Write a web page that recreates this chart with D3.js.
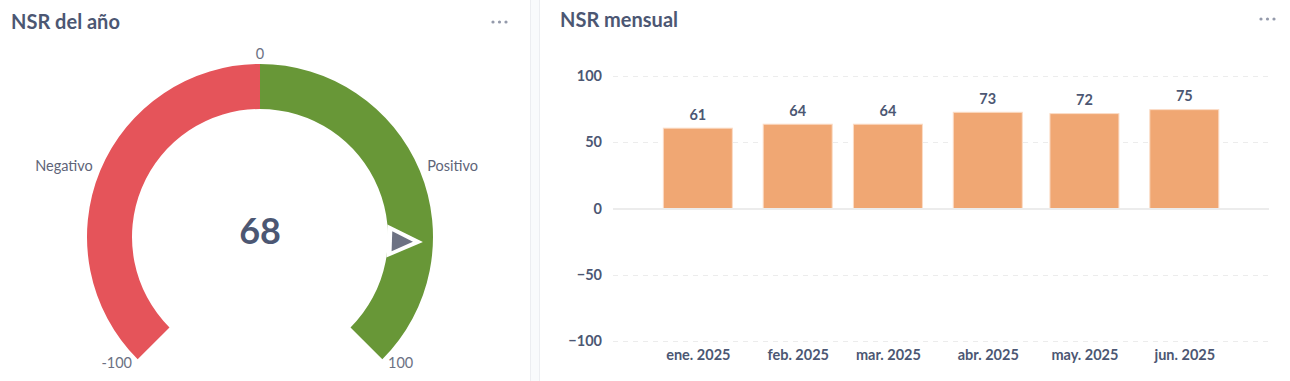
<!DOCTYPE html>
<html><head><meta charset="utf-8">
<script src="https://cdn.jsdelivr.net/npm/d3@7"></script>
<style>
html,body{margin:0;padding:0;background:#fff;}
svg{display:block;font-family:Lato, "Noto Sans", sans-serif;}
</style></head>
<body>
<svg id="chart" width="1290" height="381"></svg>
<script>
// ---------- data ----------
const gaugeTitle = "NSR del año";
const gaugeValue = 68;
const gaugeMin = -100;
const gaugeMax = 100;
const gaugeSegments = [
  {label: "Negativo", from: -100, to: 0},
  {label: "Positivo", from: 0, to: 100}
];
const gaugeTicks = [-100, 0, 100];

const barTitle = "NSR mensual";
const months = ["2025-01-01", "2025-02-01", "2025-03-01", "2025-04-01", "2025-05-01", "2025-06-01"];
const monthLabels = ["ene. 2025", "feb. 2025", "mar. 2025", "abr. 2025", "may. 2025", "jun. 2025"];
const nsrValues = [61, 64, 64, 73, 72, 75];
const yTicks = [-100, -50, 0, 50, 100];

// ---------- styles ----------
const TEXT = "#4c5773";
const LABEL = "#5e6478";
const RED = "#e5545a";
const GREEN = "#689737";
const BAR = "#f0a773";
const segColors = [RED, GREEN];

const svg = d3.select("#chart");

// panel separator
svg.append("rect").attr("x", 530).attr("y", 0).attr("width", 10).attr("height", 381).attr("fill", "#f9fbfc");
svg.append("line").attr("x1", 530.5).attr("x2", 530.5).attr("y1", 0).attr("y2", 381).attr("stroke", "#eceef1");
svg.append("line").attr("x1", 539.5).attr("x2", 539.5).attr("y1", 0).attr("y2", 381).attr("stroke", "#eceef1");

function dots(g, x, y) {
  [0, 1, 2].forEach(i => g.append("circle").attr("cx", x + i * 6.5).attr("cy", y).attr("r", 1.6).attr("fill", "#949aab"));
}

// ---------- gauge ----------
const gL = svg.append("g");
gL.append("text").attr("x", 11).attr("y", 29).attr("font-size", 20).attr("font-weight", 700)
  .attr("fill", TEXT).text(gaugeTitle);
dots(gL, 493, 22);

const cx = 260, cy = 237, R = 173, r = 128;
const ang = d3.scaleLinear().domain([gaugeMin, gaugeMax]).range([-135 * Math.PI / 180, 135 * Math.PI / 180]);
const arc = d3.arc().innerRadius(r).outerRadius(R);
const gauge = gL.append("g").attr("transform", `translate(${cx},${cy})`);

gauge.selectAll("path.seg").data(gaugeSegments).join("path")
  .attr("class", "seg")
  .attr("d", d => arc({startAngle: ang(d.from), endAngle: ang(d.to)}))
  .attr("fill", (d, i) => segColors[i]);

const labR = R + 8;
const labDy = 3;
function anchorFor(a) {
  const s = Math.sin(a);
  return Math.abs(s) < 0.1 ? "middle" : (s > 0 ? "start" : "end");
}
gauge.selectAll("text.tick").data(gaugeTicks).join("text")
  .attr("class", "tick")
  .attr("x", d => labR * Math.sin(ang(d)))
  .attr("y", d => -labR * Math.cos(ang(d)) + labDy)
  .attr("text-anchor", d => anchorFor(ang(d)))
  .attr("font-size", 14.5).attr("fill", "#6b7183")
  .text(d => d);
gauge.selectAll("text.seglab").data(gaugeSegments).join("text")
  .attr("class", "seglab")
  .attr("x", d => labR * Math.sin(ang((d.from + d.to) / 2)))
  .attr("y", d => -labR * Math.cos(ang((d.from + d.to) / 2)) + labDy)
  .attr("text-anchor", d => anchorFor(ang((d.from + d.to) / 2)))
  .attr("font-size", 14.5).attr("fill", LABEL)
  .text(d => d.label);

gauge.append("text").attr("x", 0).attr("y", 7).attr("text-anchor", "middle")
  .attr("font-size", 36).attr("font-weight", 700).attr("fill", TEXT).text(gaugeValue);

// pointer
const pa = ang(gaugeValue);
const pg = gauge.append("g").attr("transform", `rotate(${pa * 180 / Math.PI})`);
pg.append("path").attr("d", `M-16.5,-127 L16.5,-127 L0,-163 Z`).attr("fill", "#fff");
pg.append("path").attr("d", `M-10,-132 L10,-132 L0,-153 Z`).attr("fill", "#6d7283");

// ---------- bar chart ----------
const gR = svg.append("g");
gR.append("text").attr("x", 560).attr("y", 27).attr("font-size", 20).attr("font-weight", 700)
  .attr("fill", TEXT).text(barTitle);
dots(gR, 1261, 19);

const parse = d3.utcParse("%Y-%m-%d");
const dates = months.map(parse);
const padDays = 26.3;
const x = d3.scaleUtc()
  .domain([d3.utcHour.offset(dates[0], -padDays * 24), d3.utcHour.offset(dates[dates.length - 1], padDays * 24)])
  .range([613, 1269]);
const y = d3.scaleLinear().domain([-100, 100]).range([341, 76]);

// grid
gR.selectAll("line.grid").data(yTicks.filter(t => t !== 0)).join("line")
  .attr("class", "grid")
  .attr("x1", 613).attr("x2", 1269)
  .attr("y1", d => Math.round(y(d)) + 0.5).attr("y2", d => Math.round(y(d)) + 0.5)
  .attr("stroke", "#ececec").attr("stroke-dasharray", "5,5");

const yAxis = d3.axisLeft(y).tickValues(yTicks).tickSize(0).tickPadding(0);
const ya = gR.append("g").attr("transform", "translate(602,0)").call(yAxis);
ya.select(".domain").remove();
ya.selectAll("text").attr("font-family", "Lato").attr("font-size", 14.5).attr("font-weight", 700).attr("fill", TEXT);

const barW = 70;
const data = dates.map((d, i) => ({date: d, label: monthLabels[i], value: nsrValues[i]}));

gR.selectAll("rect.bar").data(data).join("rect")
  .attr("class", "bar")
  .attr("x", d => x(d.date) - barW / 2 + 0.5)
  .attr("width", barW - 1)
  .attr("y", d => y(d.value) + 0.5)
  .attr("height", d => y(0) - y(d.value))
  .attr("fill", BAR).attr("stroke", "#fbdcc6").attr("stroke-width", 1);

// zero line
gR.append("line").attr("x1", 613).attr("x2", 1269).attr("y1", y(0) + 0.5).attr("y2", y(0) + 0.5)
  .attr("stroke", "#ececec").attr("stroke-width", 2);

gR.selectAll("text.val").data(data).join("text")
  .attr("class", "val")
  .attr("x", d => x(d.date))
  .attr("y", d => y(d.value) - 8)
  .attr("text-anchor", "middle").attr("font-size", 14.5).attr("font-weight", 700).attr("fill", TEXT)
  .text(d => d.value);

const xAxis = d3.axisBottom(x).tickValues(dates).tickFormat((d, i) => monthLabels[i]).tickSize(0).tickPadding(0);
const xa = gR.append("g").attr("transform", "translate(0,350)").call(xAxis);
xa.select(".domain").remove();
xa.selectAll("text").attr("font-family", "Lato").attr("font-size", 14.5).attr("font-weight", 700).attr("fill", TEXT)
  .attr("dy", "0.71em");
</script>
</body></html>
